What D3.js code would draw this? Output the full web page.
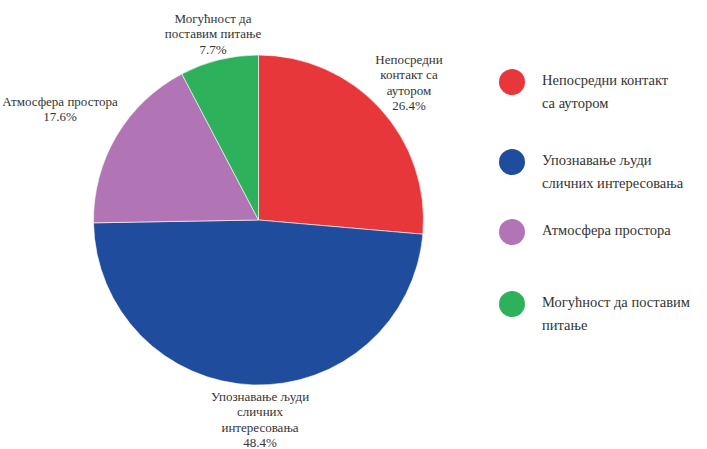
<!DOCTYPE html>
<html><head><meta charset="utf-8">
<script src="https://cdn.jsdelivr.net/npm/d3@7"></script>
<style>body{margin:0;background:#fff}svg{display:block}
text{font-family:"Liberation Serif","Times New Roman",Times,"DejaVu Serif",serif}</style>
</head><body>
<svg id="c" width="707" height="449"></svg>
<script>
const categories = ["Непосредни контакт са аутором", "Упознавање људи сличних интересовања", "Атмосфера простора", "Могућност да поставим питање"];
const values = [26.4, 48.4, 17.6, 7.7];
const colors = ["#e8373a", "#1f4c9c", "#b175b5", "#2db25b"];
const pieLabelLines = [["Непосредни", "контакт са", "аутором"], ["Упознавање људи", "сличних", "интересовања"], ["Атмосфера простора"], ["Могућност да", "поставим питање"]];
const legendLines = [["Непосредни контакт", "са аутором"], ["Упознавање људи", "сличних интересовања"], ["Атмосфера простора"], ["Могућност да поставим", "питање"]];

const svg = d3.select("#c");
const cx = 258.5, cy = 220, r = 165;
const pie = d3.pie().sort(null).value(d => d)(values);
const arc = d3.arc().innerRadius(0).outerRadius(r);
const g = svg.append("g").attr("transform", `translate(${cx},${cy})`);
g.selectAll("path").data(pie).join("path")
  .attr("d", arc).attr("fill", (d, i) => colors[i])
  .attr("stroke", "#fff").attr("stroke-width", 0.6);

const labelPos = [[409, 59], [260, 396], [60, 101], [213, 18]];
pie.forEach((d, i) => {
  const lines = pieLabelLines[i].concat([d3.format(".1f")(values[i]) + "%"]);
  const t = svg.append("text").attr("text-anchor", "middle")
    .attr("font-size", 13).attr("fill", "#333");
  lines.forEach((l, j) => t.append("tspan").attr("x", labelPos[i][0])
    .attr("y", labelPos[i][1] + j * 15.5).attr("dy", "0.35em").text(l));
});

const legY = [82, 162, 232, 304];
const lg = svg.append("g");
categories.forEach((c, i) => {
  lg.append("circle").attr("cx", 512).attr("cy", legY[i]).attr("r", 13).attr("fill", colors[i]);
  const t = lg.append("text").attr("font-size", 14.5).attr("fill", "#333");
  legendLines[i].forEach((l, j) => t.append("tspan").attr("x", 542)
    .attr("y", legY[i] - 2 + j * 23).attr("dy", "0.35em").text(l));
});
</script>
</body></html>
